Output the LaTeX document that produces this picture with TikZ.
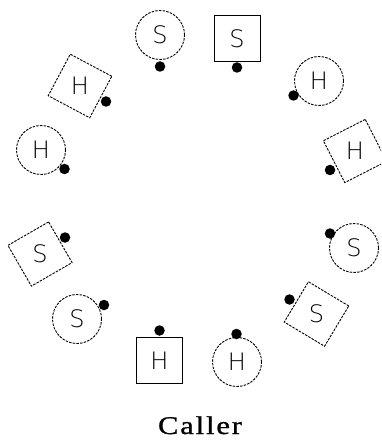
\documentclass[tikz,border=0pt]{standalone}
\usepackage{fontspec}
\setmainfont{Liberation Serif}
\newfontfamily\lblfont{DejaVuSans-ExtraLight.ttf}
\newfontfamily\captionfont[LetterSpace=6,FakeBold=0.9]{Liberation Serif}
\begin{document}
\begin{tikzpicture}[x=1pt,y=-1pt,
  every node/.style={inner sep=0pt, outer sep=0pt},
  outline/.style={draw=black, line width=0.9pt, dash pattern=on 2.5pt off 1.2pt},
  roundpart/.style={outline, circle, minimum size=49pt},
  boxpart/.style={draw=black, line width=0.9pt, rectangle, minimum size=46pt},
  tiltbox/.style={outline, rectangle, minimum size=47pt},
  port/.style={circle, fill=black, minimum size=10.5pt},
  lbl/.style={font=\lblfont\fontsize{24}{24}\selectfont}
]
\clip (0,0) rectangle (381,443);

% upper arc
\node[roundpart, lbl] (s1) at (160,35) {S};
\node[port] (p1) at (160,66.5) {};
\node[boxpart, lbl] (s2) at (237,38.5) {S};
\node[port] (p2) at (237,67.5) {};
\node[roundpart, lbl] (h3) at (319,81) {H};
\node[port] (p3) at (293.5,95.5) {};
\node[tiltbox, rotate=27] (h4) at (355,151) {};
\node[lbl] (h4t) at (h4) {H};
\node[port] (p4) at (330,170) {};
\node[tiltbox, rotate=-28] (h5) at (80,86) {};
\node[lbl] (h5t) at (h5) {H};
\node[port] (p5) at (106,101.5) {};
\node[roundpart, lbl] (h6) at (41,150) {H};
\node[port] (p6) at (64.5,169) {};

% lower arc
\node[tiltbox, rotate=30] (s7) at (40,254) {};
\node[lbl] (s7t) at (s7) {S};
\node[port] (p7) at (65,237.5) {};
\node[roundpart, lbl] (s8) at (77,319) {S};
\node[port] (p8) at (104,305) {};
\node[boxpart, lbl] (h9) at (159.5,360.5) {H};
\node[port] (p9) at (159.5,330.5) {};
\node[roundpart, lbl] (h10) at (237,362) {H};
\node[port] (p10) at (236.5,334) {};
\node[tiltbox, rotate=-31] (s11) at (316.5,314) {};
\node[lbl] (s11t) at (s11) {S};
\node[port] (p11) at (289.5,299.5) {};
\node[roundpart, lbl] (s12) at (354,248) {S};
\node[port] (p12) at (330,233.5) {};

% caption
\node[font=\captionfont\fontsize{25.5}{25.5}\selectfont, xscale=1.2, anchor=base] (caller) at (200,434) {Caller};
\end{tikzpicture}
\end{document}
